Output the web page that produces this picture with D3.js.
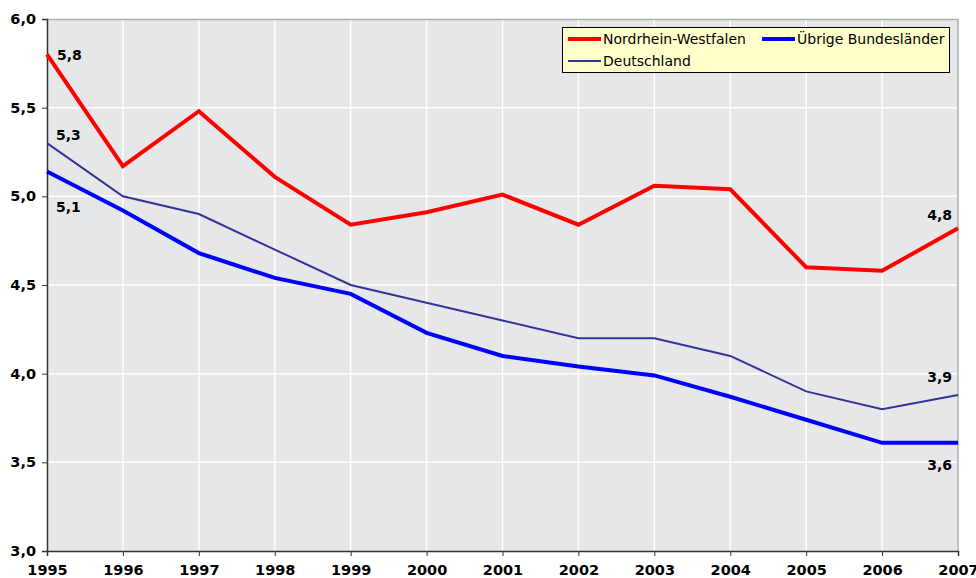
<!DOCTYPE html>
<html>
<head>
<meta charset="utf-8">
<script src="https://cdn.jsdelivr.net/npm/d3@7"></script>
<style>
  body { margin: 0; background: #fff; }
  svg { display: block; }
</style>
</head>
<body>
<div id="wrapper"></div>
<script>
// chart values
const years = [1995, 1996, 1997, 1998, 1999, 2000, 2001, 2002, 2003, 2004, 2005, 2006, 2007]
const nrw = [5.80, 5.17, 5.48, 5.11, 4.84, 4.91, 5.01, 4.84, 5.06, 5.04, 4.60, 4.58, 4.82]
const uebrige = [5.14, 4.92, 4.68, 4.54, 4.45, 4.23, 4.10, 4.04, 3.99, 3.87, 3.74, 3.61, 3.61]
const deutschland = [5.30, 5.00, 4.90, 4.70, 4.50, 4.40, 4.30, 4.20, 4.20, 4.10, 3.90, 3.80, 3.88]
const yTicks = [3.0, 3.5, 4.0, 4.5, 5.0, 5.5, 6.0]
const seriesNames = ["Nordrhein-Westfalen", "Übrige Bundesländer", "Deutschland"]

function drawChart() {
    const dims = {
        width: 976,
        height: 578,
        margin: { top: 19, right: 18, bottom: 27, left: 47 },
    }
    dims.boundWidth = dims.width - dims.margin.left - dims.margin.right
    dims.boundHeight = dims.height - dims.margin.top - dims.margin.bottom

    const fmt = v => d3.format(".1f")(v).replace(".", ",")

    const wrapper = d3.select("#wrapper")
        .append("svg")
            .attr("width", dims.width)
            .attr("height", dims.height)

    const bound = wrapper.append("g")
        .attr("transform", `translate(${dims.margin.left},${dims.margin.top})`)

    const xScale = d3.scaleLinear()
        .domain([years[0], years[years.length - 1]])
        .range([0, dims.boundWidth])

    const yScale = d3.scaleLinear()
        .domain([3, 6])
        .range([dims.boundHeight, 0])

    // plot background
    bound.append("rect")
        .attr("width", dims.boundWidth)
        .attr("height", dims.boundHeight)
        .attr("fill", "#e6e7e9")

    // grid lines
    bound.append("g").selectAll("line")
        .data(years.slice(1, -1))
        .join("line")
            .attr("x1", d => xScale(d)).attr("x2", d => xScale(d))
            .attr("y1", 0).attr("y2", dims.boundHeight)
            .attr("stroke", "#fff").attr("stroke-width", 1.5)
    bound.append("g").selectAll("line")
        .data(yTicks.slice(1, -1))
        .join("line")
            .attr("y1", d => yScale(d)).attr("y2", d => yScale(d))
            .attr("x1", 0).attr("x2", dims.boundWidth)
            .attr("stroke", "#fff").attr("stroke-width", 1.5)

    // top and right border
    bound.append("path")
        .attr("d", `M0,0.5H${dims.boundWidth}V${dims.boundHeight}`)
        .attr("fill", "none")
        .attr("stroke", "#b0b0b0")
        .attr("stroke-width", 1.5)

    // axes
    const xAxis = d3.axisBottom(xScale)
        .tickValues(years)
        .tickFormat(d3.format("d"))
        .tickSize(5)
        .tickPadding(7)
    const xAxisGroup = bound.append("g")
        .attr("transform", `translate(0,${dims.boundHeight})`)
        .call(xAxis)

    const yAxis = d3.axisLeft(yScale)
        .tickValues(yTicks)
        .tickFormat(fmt)
        .tickSize(5)
        .tickPadding(6)
    const yAxisGroup = bound.append("g").call(yAxis)

    ;[xAxisGroup, yAxisGroup].forEach(g => {
        g.select(".domain").attr("stroke", "#333").attr("stroke-width", 1.5)
        g.selectAll(".tick line").attr("stroke", "#333")
        g.selectAll("text")
            .attr("font-family", "DejaVu Sans, Verdana, sans-serif")
            .attr("font-weight", "bold")
            .attr("font-size", 14.5)
            .attr("fill", "#000")
    })
    xAxisGroup.selectAll("text").attr("dy", "0.85em")

    // lines
    const series = [
        { name: seriesNames[1], values: uebrige, color: "#0000ff", width: 4 },
        { name: seriesNames[2], values: deutschland, color: "#333399", width: 2 },
        { name: seriesNames[0], values: nrw, color: "#ff0000", width: 4 },
    ]
    const lineGen = d3.line()
        .x((d, i) => xScale(years[i]))
        .y(d => yScale(d))

    bound.append("g").selectAll("path")
        .data(series)
        .join("path")
            .attr("d", d => lineGen(d.values))
            .attr("fill", "none")
            .attr("stroke", d => d.color)
            .attr("stroke-width", d => d.width)
            .attr("stroke-linejoin", "miter")

    // value labels at start and end
    const last = years.length - 1
    const valueLabels = [
        { v: nrw[0], x: xScale(years[0]) + 10, y: yScale(nrw[0]) + 6, anchor: "start" },
        { v: deutschland[0], x: xScale(years[0]) + 9, y: yScale(deutschland[0]) - 3, anchor: "start" },
        { v: uebrige[0], x: xScale(years[0]) + 9, y: yScale(uebrige[0]) + 40, anchor: "start" },
        { v: nrw[last], x: xScale(years[last]) - 6, y: yScale(nrw[last]) - 8, anchor: "end" },
        { v: deutschland[last], x: xScale(years[last]) - 6, y: yScale(deutschland[last]) - 13, anchor: "end" },
        { v: uebrige[last], x: xScale(years[last]) - 6, y: yScale(uebrige[last]) + 27, anchor: "end" },
    ]
    bound.append("g").selectAll("text")
        .data(valueLabels)
        .join("text")
            .attr("x", d => d.x)
            .attr("y", d => d.y)
            .attr("text-anchor", d => d.anchor)
            .attr("font-family", "DejaVu Sans, Verdana, sans-serif")
            .attr("font-weight", "bold")
            .attr("font-size", 14)
            .text(d => fmt(d.v))

    // legend
    const legend = wrapper.append("g")
    legend.append("rect")
        .attr("x", 562.5).attr("y", 27.5)
        .attr("width", 387).attr("height", 45)
        .attr("fill", "#ffffcc")
        .attr("stroke", "#000")
        .attr("stroke-width", 1)
    const legendItems = [
        { name: seriesNames[0], color: "#ff0000", width: 4, x: 568, y: 39 },
        { name: seriesNames[1], color: "#0000ff", width: 4, x: 762, y: 39 },
        { name: seriesNames[2], color: "#333399", width: 2, x: 568, y: 61 },
    ]
    const li = legend.selectAll("g.item")
        .data(legendItems)
        .join("g")
            .attr("class", "item")
            .attr("transform", d => `translate(${d.x},${d.y})`)
    li.append("line")
        .attr("x1", 0).attr("x2", 33)
        .attr("stroke", d => d.color)
        .attr("stroke-width", d => d.width)
    li.append("text")
        .attr("x", 35)
        .attr("dy", "0.35em")
        .attr("font-family", "DejaVu Sans, Verdana, sans-serif")
        .attr("font-size", 14)
        .text(d => d.name)
}

drawChart()
</script>
</body>
</html>
